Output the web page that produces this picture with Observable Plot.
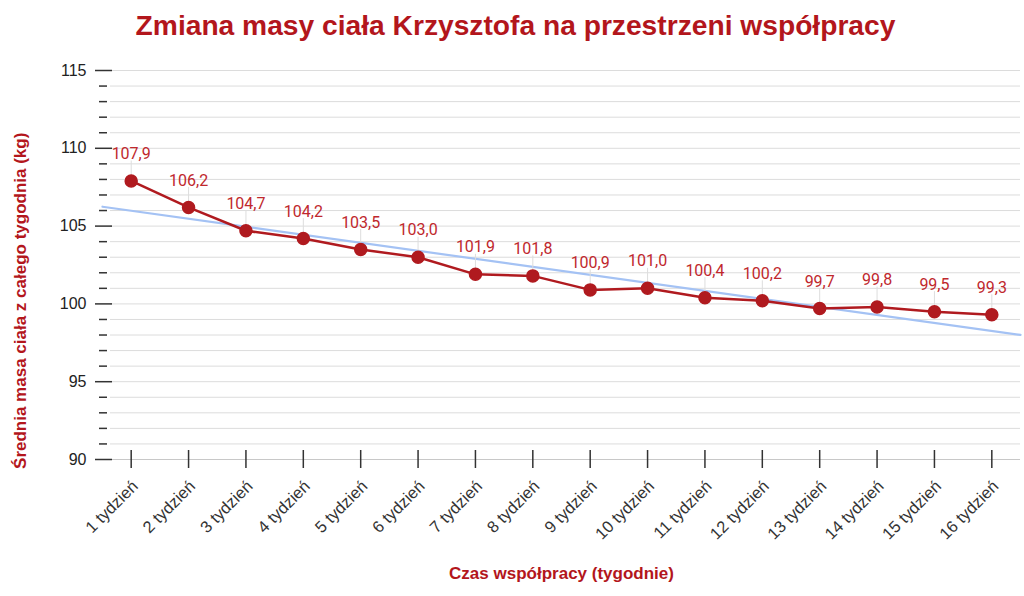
<!DOCTYPE html>
<html>
<head>
<meta charset="utf-8">
<script src="https://cdn.jsdelivr.net/npm/d3@7"></script>
<script src="https://cdn.jsdelivr.net/npm/@observablehq/plot@0.6"></script>
<style>
  html, body { margin: 0; padding: 0; background: #fff; }
  #chart svg { display: block; }
</style>
</head>
<body>
<div id="chart"></div>
<script>
const weeks = [1, 2, 3, 4, 5, 6, 7, 8, 9, 10, 11, 12, 13, 14, 15, 16];
const weekLabels = ["1 tydzień", "2 tydzień", "3 tydzień", "4 tydzień", "5 tydzień", "6 tydzień", "7 tydzień", "8 tydzień", "9 tydzień", "10 tydzień", "11 tydzień", "12 tydzień", "13 tydzień", "14 tydzień", "15 tydzień", "16 tydzień"];
const weights = [107.9, 106.2, 104.7, 104.2, 103.5, 103.0, 101.9, 101.8, 100.9, 101.0, 100.4, 100.2, 99.7, 99.8, 99.5, 99.3];
const majorTicks = [90, 95, 100, 105, 110, 115];
const minorTicks = d3.range(90, 116).filter(v => v % 5 !== 0);
const gridValues = d3.range(90, 116);

const titleText = "Zmiana masy ciała Krzysztofa na przestrzeni współpracy";
const yTitle = "Średnia masa ciała z całego tygodnia (kg)";
const xTitle = "Czas współpracy (tygodnie)";

const data = weeks.map((w, i) => ({week: w, label: weekLabels[i], value: weights[i]}));

// linear regression trend computed from the data
const mx = d3.mean(weeks), my = d3.mean(weights);
const slope = d3.sum(weeks, (w, i) => (w - mx) * (weights[i] - my)) / d3.sum(weeks, w => (w - mx) ** 2);
const xDomain = [0.5, 16.5];
const yDomain = [90, 115];
const trend = xDomain.map(x => ({week: x, value: my + slope * (x - mx)}));

const red = "#b01a1f";
const labelRed = "#c0282d";
const titleRed = "#b3161c";

const chart = Plot.plot({
  width: 1024,
  height: 596,
  marginLeft: 102,
  marginRight: 4,
  marginTop: 70,
  marginBottom: 137,
  style: {fontFamily: "Liberation Sans, Arial, sans-serif", background: "#fff"},
  x: {type: "linear", domain: xDomain, axis: null},
  y: {domain: yDomain, axis: null},
  marks: [
    // gridlines
    Plot.ruleY(gridValues.filter(v => v !== 90), {y: d => d, x1: xDomain[0], x2: xDomain[1], insetLeft: 8, stroke: "#dcdcdc", strokeWidth: 1}),
    Plot.ruleY([90], {y: d => d, x1: xDomain[0], x2: xDomain[1], insetLeft: 8, stroke: "#c8c8c8", strokeWidth: 1}),
    // y ticks
    Plot.ruleY(majorTicks, {y: d => d, x1: xDomain[0], x2: xDomain[0], insetLeft: -7, insetRight: -10, stroke: "#333", strokeWidth: 1.5}),
    Plot.ruleY(minorTicks, {y: d => d, x1: xDomain[0], x2: xDomain[0], insetLeft: -3, insetRight: -5, stroke: "#333", strokeWidth: 1.5}),
    Plot.text(majorTicks, {y: d => d, x: xDomain[0], text: d => String(d), textAnchor: "end", dx: -16, fontSize: 16, fill: "#222"}),
    // x ticks
    Plot.ruleX(weeks, {x: d => d, y1: 90, y2: 90, insetTop: -9, insetBottom: -9, stroke: "#333", strokeWidth: 1.5}),
    Plot.text(data, {x: "week", y: 90, text: "label", rotate: -45, textAnchor: "end", lineAnchor: "middle", dx: 4, dy: 24, fontSize: 16.5, fill: "#333"}),
    // trend line
    Plot.line(trend, {x: "week", y: "value", stroke: "#a4c2f4", strokeWidth: 2.2}),
    // leader lines
    Plot.ruleX(data, {x: "week", y1: "value", y2: "value", insetTop: -20, stroke: "#dddddd", strokeWidth: 1}),
    // series
    Plot.line(data, {x: "week", y: "value", stroke: red, strokeWidth: 2.5}),
    Plot.dot(data, {x: "week", y: "value", r: 6, fill: red, stroke: red}),
    Plot.text(data, {x: "week", y: "value", text: d => d.value.toFixed(1).replace(".", ","), dy: -27, fontSize: 16, fill: labelRed, fontFamily: "Roboto, sans-serif"}),
    // titles
    Plot.text([titleText], {frameAnchor: "top", text: d => d, dy: -45, fontSize: 28.2, fontWeight: "bold", fill: titleRed, lineAnchor: "middle", dx: -46}),
    Plot.text([xTitle], {frameAnchor: "bottom", text: d => d, dy: 114, fontSize: 17, fontWeight: "bold", fill: titleRed, lineAnchor: "middle"}),
    Plot.text([yTitle], {x: xDomain[0], y: 100.2, text: d => d, rotate: -90, dx: -82, fontSize: 17, fontWeight: "bold", fill: titleRed, lineAnchor: "middle"})
  ]
});
document.getElementById("chart").appendChild(chart);
</script>
</body>
</html>
